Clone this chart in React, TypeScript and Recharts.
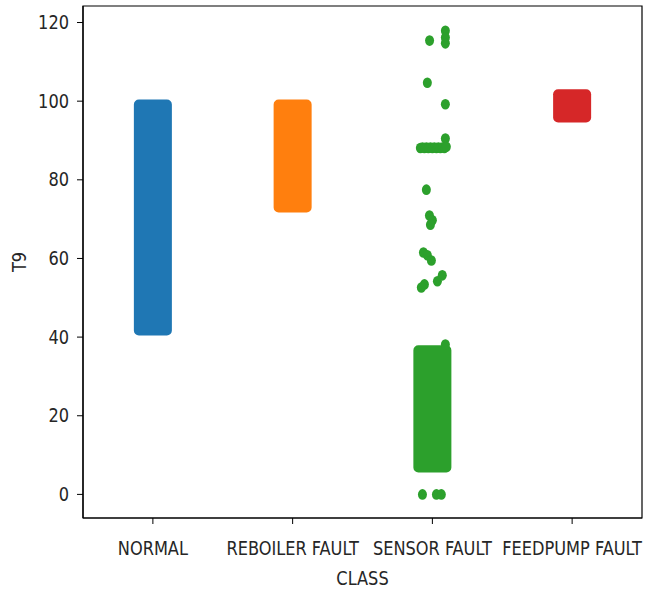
import React from 'react';
import { ComposedChart, Scatter, XAxis, YAxis, ReferenceArea } from 'recharts';

const classes = ['NORMAL', 'REBOILER FAULT', 'SENSOR FAULT', 'FEEDPUMP FAULT'];
const colors = ['#1f77b4', '#ff7f0e', '#2ca02c', '#d62728'];
// dense strip extents [low, high] per class
const denseLow = [40.4, 71.7, 5.6, 94.6];
const denseHigh = [100.4, 100.4, 37.9, 103.0];
const stripHalfWidth = 0.136;
const yTicks = [0, 20, 40, 60, 80, 100, 120];
const xTicks = [0, 1, 2, 3];

// sparse SENSOR FAULT points: jitter offset within category, value
const sensorOffsets = [-0.02, 0.093, 0.093, 0.093, -0.036, 0.093, 0.093, -0.086, -0.071, -0.057, -0.043, -0.029, -0.014, 0, 0.014, 0.029, 0.043, 0.057, 0.071, 0.086, 0.1, -0.043, -0.021, 0, -0.014, -0.064, -0.036, -0.007, 0.071, 0.036, -0.057, -0.079, 0.093, -0.071, 0.029, 0.064];
const sensorValues = [115.4, 117.9, 116.2, 114.7, 104.7, 99.2, 90.5, 88.1, 88.2, 88.1, 88.2, 88.1, 88.2, 88.1, 88.2, 88.1, 88.2, 88.1, 88.2, 88.1, 88.4, 77.5, 70.9, 69.7, 68.6, 61.5, 60.8, 59.5, 55.7, 54.2, 53.4, 52.6, 38.1, 0, 0, 0];

const sensorPoints = sensorOffsets.map((o, i) => ({ x: 2 + o, y: sensorValues[i] }));

const FONT = '"DejaVu Sans Condensed", "DejaVu Sans", sans-serif';
const TXT = '#262626';
const FS = 18;
const SY = 1.1;

const STxt = ({ x, y, anchor, children }: any) => (
  <text transform={`translate(${x}, ${y}) scale(1, ${SY})`} textAnchor={anchor} fontFamily={FONT} fontSize={FS} fill={TXT}>
    {children}
  </text>
);

const XTick = (props: any) => {
  const { x, y, payload } = props;
  return <STxt x={x} y={y + 29} anchor="middle">{classes[payload.value] ?? ''}</STxt>;
};

const YTick = (props: any) => {
  const { x, y, payload } = props;
  return <STxt x={x} y={y + 6.5} anchor="end">{payload.value}</STxt>;
};

const YLabel = (props: any) => {
  const { viewBox } = props;
  const cx = 26;
  const cy = viewBox.y + viewBox.height / 2;
  return (
    <text transform={`translate(${cx}, ${cy}) rotate(-90) scale(1, ${SY})`} textAnchor="middle" fontFamily={FONT} fontSize={FS} fill={TXT}>T9</text>
  );
};

const XLabel = (props: any) => {
  const { viewBox } = props;
  const cx = viewBox.x + viewBox.width / 2;
  return <STxt x={cx} y={585} anchor="middle">CLASS</STxt>;
};

const Dot = (props: any) => {
  const { cx, cy } = props;
  return <ellipse cx={cx} cy={cy} rx={4.5} ry={5.3} fill={colors[2]} />;
};

export default function App() {
  return (
    <div style={{ position: 'absolute', left: 0, top: 0, width: 648, height: 592, background: '#fff' }}>
      <ComposedChart width={648} height={592} margin={{ top: 6, right: 6, bottom: 0, left: 0 }}>
        <XAxis
          dataKey="x"
          type="number"
          domain={[-0.5, 3.5]}
          ticks={xTicks}
          allowDataOverflow
          height={74}
          tickSize={6}
          tickMargin={2}
          axisLine={{ stroke: '#000', strokeWidth: 1.2 }}
          tickLine={{ stroke: '#000', strokeWidth: 1 }}
          tick={<XTick />}
          interval={0}
          label={<XLabel />}
        />
        <YAxis
          dataKey="y"
          type="number"
          domain={[-6, 124.2]}
          ticks={yTicks}
          width={83}
          tickSize={6}
          tickMargin={8}
          allowDataOverflow
          axisLine={{ stroke: '#000', strokeWidth: 1.2 }}
          tickLine={{ stroke: '#000', strokeWidth: 1 }}
          tick={<YTick />}
          label={<YLabel />}
        />
        <ReferenceArea x1={-0.5} x2={3.5} y1={-6} y2={124.2} fill="none" stroke="#000" strokeWidth={1.2} />
        {classes.map((c, i) => (
          <ReferenceArea
            key={c}
            x1={i - stripHalfWidth}
            x2={i + stripHalfWidth}
            y1={denseLow[i]}
            y2={denseHigh[i]}
            fill={colors[i]}
            fillOpacity={1}
            stroke="none"
            radius={5}
          />
        ))}
        <Scatter data={sensorPoints} fill={colors[2]} shape={<Dot />} isAnimationActive={false} />
      </ComposedChart>
    </div>
  );
}
